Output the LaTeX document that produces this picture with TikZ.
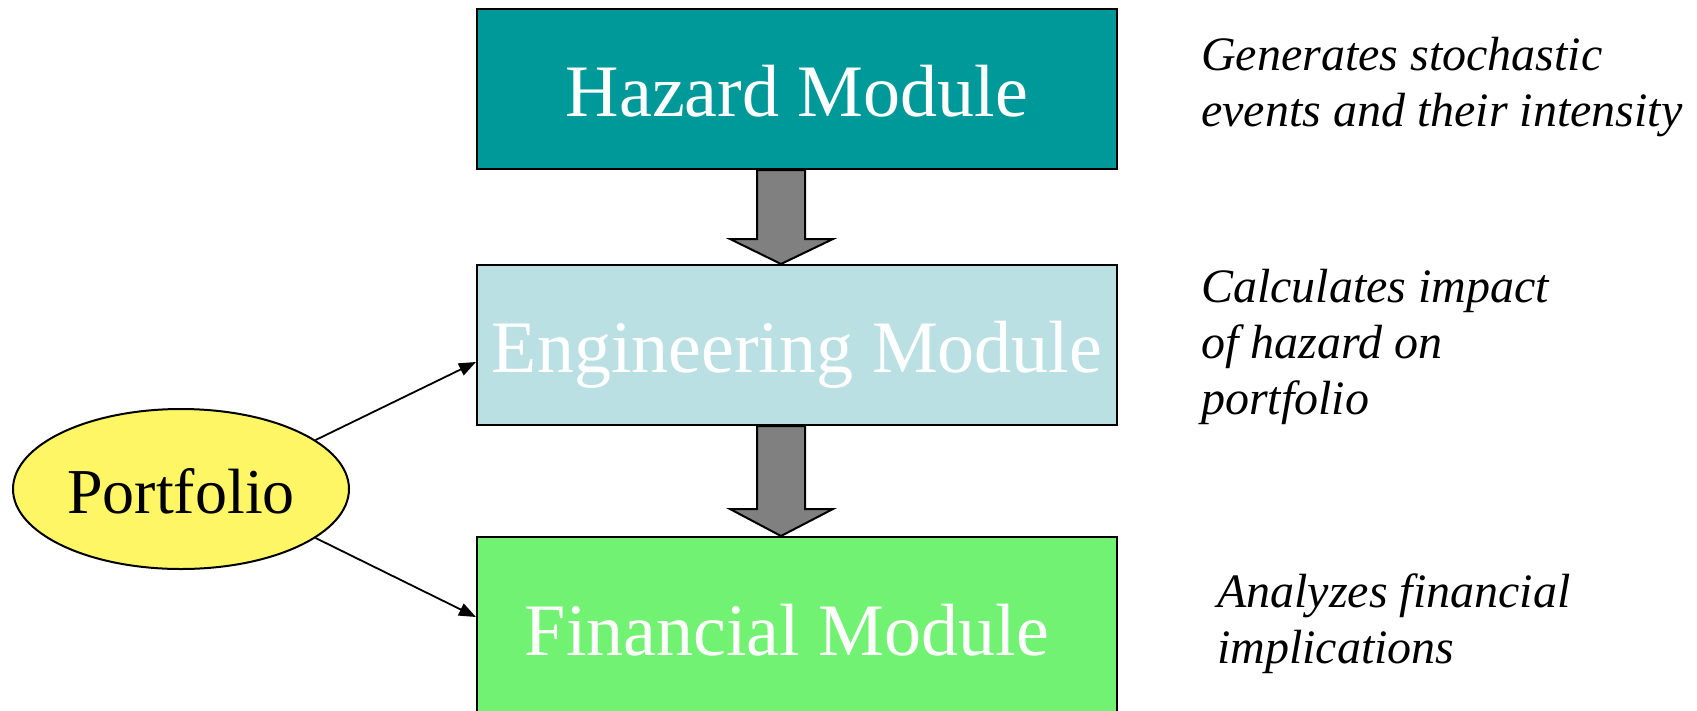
\documentclass[tikz,border=0pt]{standalone}
\usepackage{fontspec}
\setmainfont{Liberation Serif}
\usetikzlibrary{calc,shapes.geometric,arrows.meta}
\definecolor{hazardteal}{HTML}{009999}
\definecolor{engblue}{HTML}{BBE0E3}
\definecolor{fingreen}{HTML}{72F272}
\definecolor{portyellow}{HTML}{FFF666}
\definecolor{flowgray}{HTML}{808080}
\begin{document}
\begin{tikzpicture}[x=1pt,y=-1pt,
  module/.style={draw=black,line width=2pt,minimum width=640pt,minimum height=160pt,
    inner sep=0pt,text=white,font=\fontsize{74}{80}\selectfont,
    text height=54pt,text depth=0pt},
  portbox/.style={ellipse,draw=black,line width=2pt,fill=portyellow,
    minimum width=336pt,minimum height=160pt,inner sep=0pt,
    font=\fontsize{64}{70}\selectfont,text height=48pt,text depth=0pt},
  conn/.style={line width=1.8pt,-{Triangle[length=17pt,width=13pt]}},
  bigarrow/.style={draw=black,line width=2pt,fill=flowgray,line join=miter},
  desc/.style={font=\itshape\fontsize{48}{56}\selectfont,align=left,inner sep=0pt}]
\useasboundingbox (0,0) rectangle (1697,710);

% the three modules
\node[module,fill=hazardteal] (haz) at (797,89) {Hazard Module};
\node[module,fill=engblue] (eng) at (797,345) {Engineering Module};
\node[module,fill=fingreen,minimum height=182pt] (fin) at (797,628) {Financial Module\hspace*{20pt}};

% block arrows between the modules
\draw[bigarrow] ($(haz.south)+(-40,0)$) -- ($(haz.south)+(8,0)$)
  -- ($(eng.north)+(8,-25)$) -- ($(eng.north)+(36,-25)$)
  -- ($(eng.north)+(-16,0)$) -- ($(eng.north)+(-67,-25)$)
  -- ($(eng.north)+(-40,-25)$) -- cycle;
\draw[bigarrow] ($(eng.south)+(-40,0)$) -- ($(eng.south)+(8,0)$)
  -- ($(fin.north)+(8,-27)$) -- ($(fin.north)+(36,-27)$)
  -- ($(fin.north)+(-16,0)$) -- ($(fin.north)+(-67,-27)$)
  -- ($(fin.north)+(-40,-27)$) -- cycle;

% portfolio input
\node[portbox] (port) at (181,489) {Portfolio};
\draw[conn] (port.20) -- ([yshift=-17pt]eng.west);
\draw[conn] (port.-20) -- ([yshift=11pt]fin.west);

% descriptions (anchored at the baseline of their last line)
\node[desc,anchor=base west] (d1) at (1201,126) {Generates stochastic\\events and their intensity};
\node[desc,anchor=base west] (d2) at (1201,414) {Calculates impact\\of hazard on\\portfolio};
\node[desc,anchor=base west] (d3) at (1217,663) {Analyzes financial\\implications};
\end{tikzpicture}
\end{document}
